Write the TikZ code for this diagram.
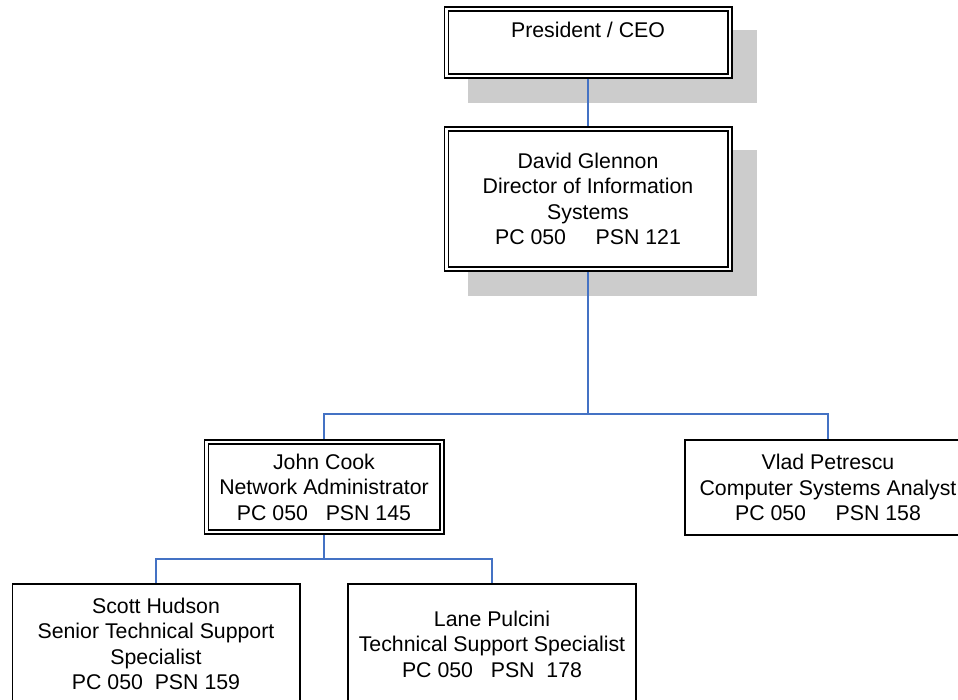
\documentclass[tikz,border=0pt]{standalone}
\usepackage{fontspec}
\setmainfont{Liberation Sans}
\usepackage{tikz}
\usetikzlibrary{positioning,backgrounds}
\definecolor{lineblue}{RGB}{68,114,196}
\definecolor{shadowgrey}{RGB}{204,204,204}

\begin{document}
\begin{tikzpicture}[x=1pt,y=1pt,
  every node/.style={font=\fontsize{21.3pt}{25.5pt}\selectfont,align=center,inner sep=0pt},
  dbox/.style={draw,fill=white,line width=1.6pt,double,double distance=2.4pt,outer sep=2.8pt},
  sbox/.style={draw,fill=white,line width=1.8pt},
  link/.style={lineblue,line width=1.8pt}]
  \useasboundingbox (0,0) rectangle (958,-699);
  \clip (0,0) rectangle (958,-699);
  \node[dbox,minimum width=283.4pt,minimum height=67.4pt] (ceo) at (588,-42.5) {President / CEO\\ \mbox{}};
  \node[dbox,minimum width=283.4pt,minimum height=140.4pt] (dir) at (588,-199) {David Glennon\\Director of Information\\Systems\\PC 050~~~~~PSN 121};
  \node[dbox,minimum width=235.4pt,minimum height=90.4pt] (net) at (324,-487) {John Cook\\Network Administrator\\PC 050~~~PSN 145};
  \node[sbox,minimum width=286.2pt,minimum height=95.2pt] (csa) at (828,-487.5) {Vlad Petrescu\\Computer Systems Analyst\\PC 050~~~~~PSN 158};
  \node[sbox,minimum width=287.2pt,minimum height=120pt] (sts) at (156,-644) {Scott Hudson\\Senior Technical Support\\Specialist\\PC 050~~PSN 159};
  \node[sbox,minimum width=288.2pt,minimum height=120pt] (tss) at (492,-644) {Lane Pulcini\\Technical Support Specialist\\PC 050~~~PSN~~178};
  \begin{scope}[on background layer]
    \fill[shadowgrey] ([shift={(24,-24)}]ceo.north west) rectangle ([shift={(24,-24)}]ceo.south east);
    \fill[shadowgrey] ([shift={(24,-24)}]dir.north west) rectangle ([shift={(24,-24)}]dir.south east);
  \end{scope}
  \coordinate (busa) at (588,-414);
  \coordinate (busb) at (324,-559);
  \draw[link] (ceo) -- (dir);
  \draw[link] (dir) -- (busa);
  \draw[link] (busa) -| (net);
  \draw[link] (busa) -| (csa);
  \draw[link] (net) -- (busb);
  \draw[link] (busb) -| (sts);
  \draw[link] (busb) -| (tss);
\end{tikzpicture}
\end{document}
